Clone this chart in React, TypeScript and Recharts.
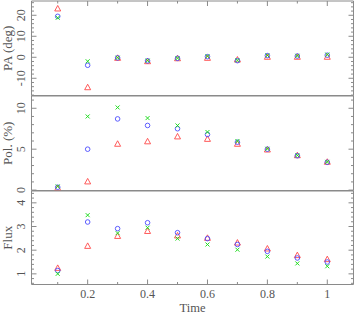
import React from "react";
import { ScatterChart, Scatter, XAxis, YAxis } from "recharts";

// sample times
const TIMES = [0.1, 0.2, 0.3, 0.4, 0.5, 0.6, 0.7, 0.8, 0.9, 1.0];

// position angle (deg)
const PA_RED = [23, -14.5, -0.5, -2.1, -0.7, -0.5, -1.3, 0, 0, 0];
const PA_BLUE = [19.5, -3.8, -0.3, -1.7, -0.5, 0.3, -1.6, 0.8, 0.6, 1.0];
const PA_GREEN = [18.8, -1.9, -0.2, -1.6, -0.4, 0.5, -1.4, 0.9, 0.7, 1.3];

// polarisation (%)
const POL_RED = [0.2, 1.0, 5.6, 5.9, 6.5, 6.2, 5.6, 4.9, 4.2, 3.4];
const POL_BLUE = [0.35, 5.0, 8.7, 7.9, 7.5, 6.8, 5.85, 5.0, 4.2, 3.4];
const POL_GREEN = [0.45, 9.0, 10.1, 8.8, 7.9, 7.1, 6.0, 5.05, 4.25, 3.45];

// flux
const FLUX_RED = [1.23, 2.16, 2.58, 2.79, 2.6, 2.5, 2.3, 2.05, 1.77, 1.6];
const FLUX_BLUE = [1.14, 3.19, 2.91, 3.16, 2.74, 2.49, 2.24, 1.95, 1.67, 1.5];
const FLUX_GREEN = [1.0, 3.48, 2.72, 2.95, 2.49, 2.24, 2.02, 1.73, 1.44, 1.32];

// tick positions
const X_TICKS = [0.1, 0.2, 0.3, 0.4, 0.5, 0.6, 0.7, 0.8, 0.9, 1.0];
const X_MAJOR = [0.2, 0.4, 0.6, 0.8, 1.0];
const PA_TICKS = [-18, -16, -14, -12, -10, -8, -6, -4, -2, 0, 2, 4, 6, 8, 10, 12, 14, 16, 18, 20, 22, 24, 26];
const PA_MAJOR = [-10, 0, 10, 20];
const POL_TICKS = [0, 1, 2, 3, 4, 5, 6, 7, 8, 9, 10, 11];
const POL_MAJOR = [0, 5, 10];
const FLUX_TICKS = [0.6, 0.8, 1, 1.2, 1.4, 1.6, 1.8, 2, 2.2, 2.4, 2.6, 2.8, 3, 3.2, 3.4, 3.6, 3.8, 4, 4.2, 4.4];
const FLUX_MAJOR = [1, 2, 3, 4];

const X_DOMAIN = [0.0125, 1.0875];
const FRAME = "#8a8a8a";
const TEXT = "#555";
const FONT = "'Liberation Serif', 'DejaVu Serif', serif";
const GREEN = "#22dd22";

const toRows = (vals: number[]) => TIMES.map((t, i) => ({ t, v: vals[i] }));
const isMajor = (list: number[], v: number) => list.some((m) => Math.abs(m - v) < 1e-6);

const Triangle = (p: any) => (
  <polygon
    points={`${p.cx},${p.cy - 3.5} ${p.cx - 3},${p.cy + 2} ${p.cx + 3},${p.cy + 2}`}
    fill="none"
    stroke="#ff4848"
    strokeWidth={0.9}
  />
);
const Ring = (p: any) => <circle cx={p.cx} cy={p.cy} r={2.3} fill="none" stroke="#4c4cff" strokeWidth={0.9} />;
const Cross = (p: any) => (
  <g>
    <line x1={p.cx - 2} y1={p.cy - 2} x2={p.cx + 2} y2={p.cy + 2} stroke={GREEN} strokeWidth={1} />
    <line x1={p.cx - 2} y1={p.cy + 2} x2={p.cx + 2} y2={p.cy - 2} stroke={GREEN} strokeWidth={1} />
  </g>
);

const leftTick = (majors: number[], fmt: (v: number) => string) => (props: any) => {
  const { x, y, payload } = props;
  const major = isMajor(majors, payload.value);
  return (
    <g>
      <line x1={x} y1={y} x2={x + (major ? 5 : 2.5)} y2={y} stroke={FRAME} />
      {major && (
        <text
          x={x - 10}
          y={y}
          transform={`rotate(-90, ${x - 10}, ${y})`}
          textAnchor="middle"
          dominantBaseline="central"
          fontSize={12}
          fontFamily={FONT}
          fill={TEXT}
        >
          {fmt(payload.value)}
        </text>
      )}
    </g>
  );
};

const rightTick = (majors: number[]) => (props: any) => {
  const { x, y, payload } = props;
  const major = isMajor(majors, payload.value);
  return <line x1={x} y1={y} x2={x - (major ? 5 : 2.5)} y2={y} stroke={FRAME} />;
};

const bottomTick = (props: any) => {
  const { x, y, payload } = props;
  const major = isMajor(X_MAJOR, payload.value);
  return (
    <g>
      <line x1={x} y1={y} x2={x} y2={y - (major ? 5 : 2.5)} stroke={FRAME} />
      {major && (
        <text x={x} y={y + 13.5} textAnchor="middle" fontSize={12} fontFamily={FONT} fill={TEXT}>
          {String(Math.round(payload.value * 10) / 10)}
        </text>
      )}
    </g>
  );
};

const topTick = (props: any) => {
  const { x, y, payload } = props;
  const major = isMajor(X_MAJOR, payload.value);
  return <line x1={x} y1={y} x2={x} y2={y + (major ? 5 : 2.5)} stroke={FRAME} />;
};

const noTick = () => <g />;

interface PanelProps {
  top: number;
  height: number;
  bottomPad: number;
  axisHeight: number;
  domain: number[];
  ticks: number[];
  majors: number[];
  label: string;
  red: number[];
  blue: number[];
  green: number[];
  showTopTicks?: boolean;
  showBottom?: boolean;
}

function Panel(p: PanelProps) {
  return (
    <div style={{ position: "absolute", left: 0, top: p.top }}>
      <ScatterChart width={354} height={p.height} margin={{ top: 0.5, right: 0, bottom: p.bottomPad, left: 0 }}>
        <XAxis
          xAxisId="b"
          type="number"
          dataKey="t"
          domain={X_DOMAIN}
          allowDataOverflow
          ticks={X_TICKS}
          interval={0}
          orientation="bottom"
          height={p.axisHeight}
          tickSize={0}
          tickMargin={0}
          tickLine={false}
          stroke={FRAME}
          tick={p.showBottom ? bottomTick : noTick}
          label={
            p.showBottom
              ? {
                  content: (lp: any) => {
                    const vb = lp.viewBox;
                    return (
                      <text
                        x={vb.x + vb.width / 2}
                        y={vb.y + 27}
                        textAnchor="middle"
                        fontSize={12.5}
                        fontFamily={FONT}
                        fill={TEXT}
                      >
                        Time
                      </text>
                    );
                  },
                }
              : undefined
          }
        />
        <XAxis
          xAxisId="t"
          type="number"
          dataKey="t"
          domain={X_DOMAIN}
          allowDataOverflow
          ticks={X_TICKS}
          interval={0}
          orientation="top"
          height={0.5}
          tickSize={0}
          tickMargin={0}
          tickLine={false}
          stroke={FRAME}
          tick={p.showTopTicks ? topTick : noTick}
        />
        <YAxis
          yAxisId="l"
          type="number"
          dataKey="v"
          domain={p.domain}
          allowDataOverflow
          ticks={p.ticks}
          interval={0}
          width={31.5}
          tickSize={0}
          tickMargin={0}
          tickLine={false}
          stroke={FRAME}
          tick={leftTick(p.majors, (v) => String(v))}
          label={{
            content: (lp: any) => {
              const vb = lp.viewBox;
              const cx = 7;
              const cy = vb.y + vb.height / 2;
              return (
                <text
                  x={cx}
                  y={cy}
                  transform={`rotate(-90, ${cx}, ${cy})`}
                  textAnchor="middle"
                  dominantBaseline="central"
                  fontSize={13}
                  fontFamily={FONT}
                  fill={TEXT}
                >
                  {p.label}
                </text>
              );
            },
          }}
        />
        <YAxis
          yAxisId="r"
          type="number"
          orientation="right"
          domain={p.domain}
          allowDataOverflow
          ticks={p.ticks}
          interval={0}
          width={0.5}
          tickSize={0}
          tickMargin={0}
          tickLine={false}
          stroke={FRAME}
          tick={rightTick(p.majors)}
        />
        <Scatter xAxisId="b" yAxisId="l" data={toRows(p.red)} shape={Triangle} isAnimationActive={false} />
        <Scatter xAxisId="b" yAxisId="l" data={toRows(p.blue)} shape={Ring} isAnimationActive={false} />
        <Scatter xAxisId="b" yAxisId="l" data={toRows(p.green)} shape={Cross} isAnimationActive={false} />
      </ScatterChart>
    </div>
  );
}

export default function App() {
  return (
    <div style={{ position: "absolute", left: 0, top: 0, width: 354, height: 313, background: "#fff", overflow: "hidden" }}>
      <Panel
        top={0}
        height={96}
        bottomPad={0}
        axisHeight={0.5}
        domain={[-18.2, 26.8]}
        ticks={PA_TICKS}
        majors={PA_MAJOR}
        label="PA (deg)"
        red={PA_RED}
        blue={PA_BLUE}
        green={PA_GREEN}
        showTopTicks
      />
      <Panel
        top={95}
        height={102}
        bottomPad={6}
        axisHeight={0.5}
        domain={[-0.05, 11.5]}
        ticks={POL_TICKS}
        majors={POL_MAJOR}
        label="Pol. (%)"
        red={POL_RED}
        blue={POL_BLUE}
        green={POL_GREEN}
      />
      <Panel
        top={190}
        height={123}
        bottomPad={0}
        axisHeight={28.5}
        domain={[0.55, 4.5]}
        ticks={FLUX_TICKS}
        majors={FLUX_MAJOR}
        label="Flux"
        red={FLUX_RED}
        blue={FLUX_BLUE}
        green={FLUX_GREEN}
        showBottom
      />
    </div>
  );
}
